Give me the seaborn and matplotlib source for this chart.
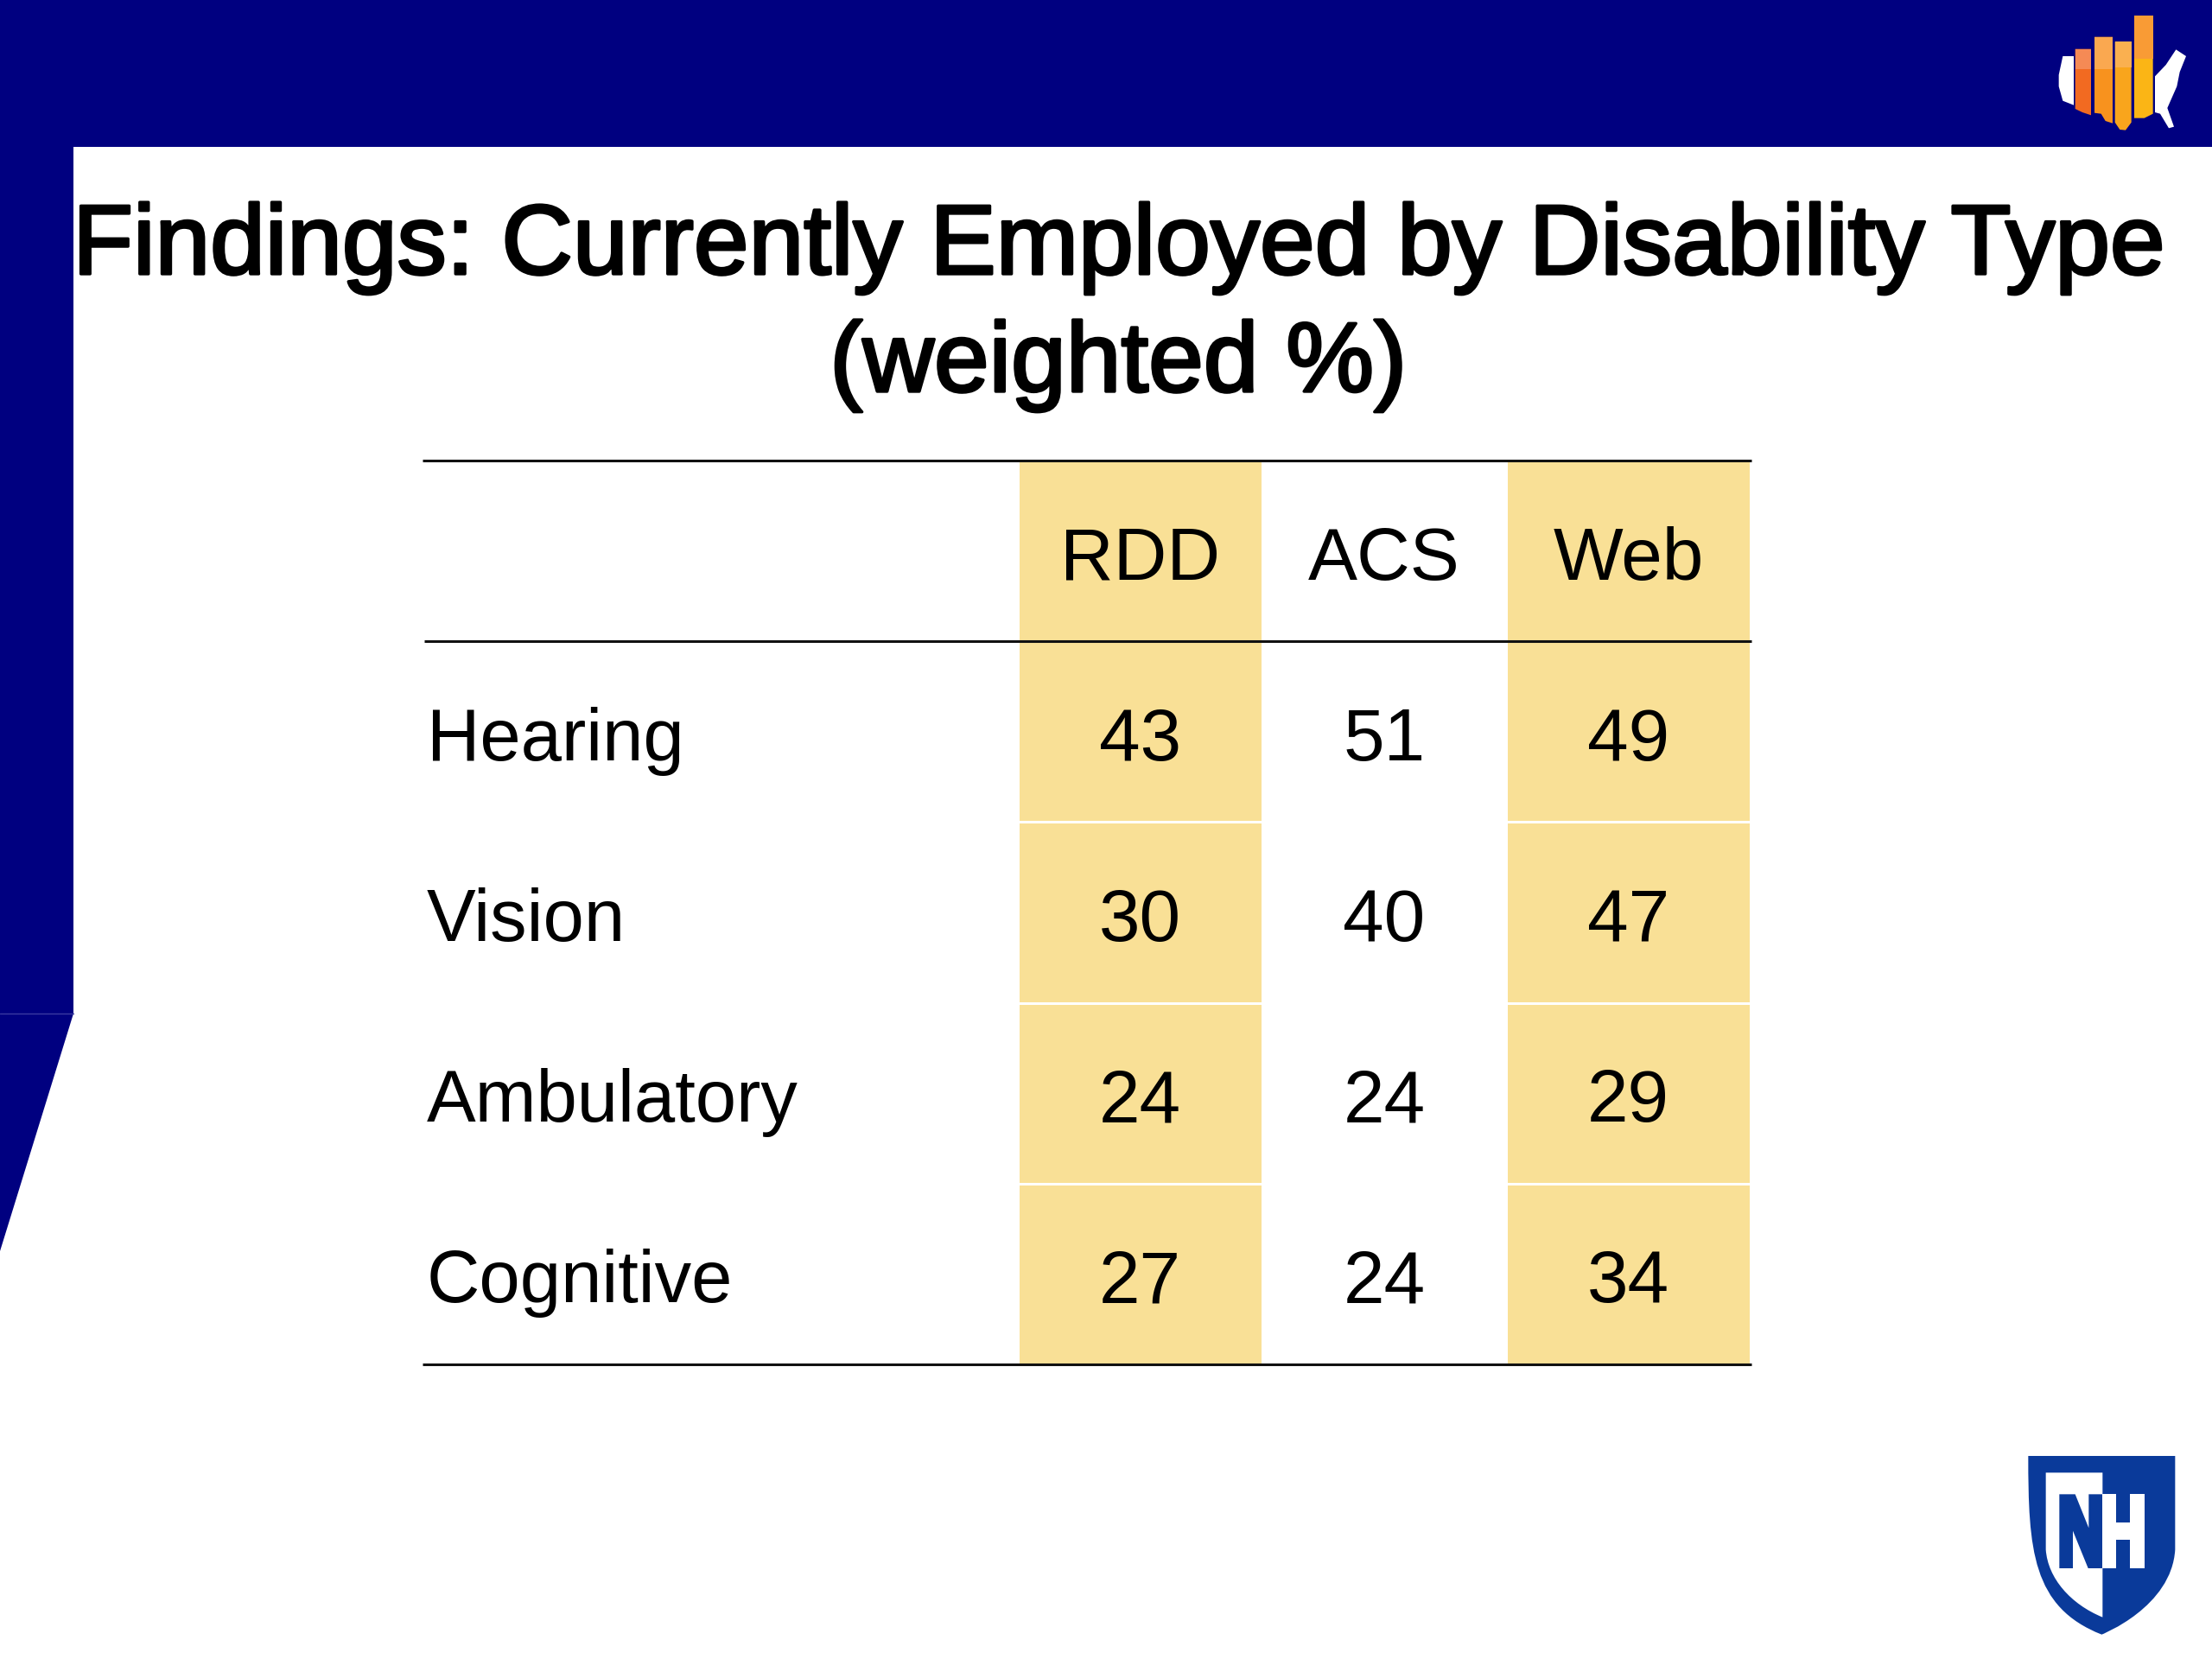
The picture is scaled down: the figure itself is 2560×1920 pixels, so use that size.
import matplotlib
matplotlib.use("Agg")
import numpy as np
import pandas as pd
import seaborn as sns
import matplotlib.pyplot as plt
import matplotlib.patheffects as pe
from matplotlib.colors import ListedColormap
from matplotlib.patches import Polygon, PathPatch
from matplotlib.path import Path
from matplotlib.transforms import ScaledTranslation

# table values
columns = ["RDD", "ACS", "Web"]
rows = ["Hearing", "Vision", "Ambulatory", "Cognitive"]
rdd = [43, 30, 24, 27]
acs = [51, 40, 24, 24]
web = [49, 47, 29, 34]
shaded = ["RDD", "Web"]
title = "Findings: Currently Employed by Disability Type\n(weighted %)"

NAVY = "#000080"
CELL = "#F9E096"
SHIELD = "#0A3A9A"
W, H = 2560, 1920

sns.set_theme(style="white")
plt.rcParams["font.family"] = ["Liberation Sans", "DejaVu Sans"]

df = pd.DataFrame({"RDD": rdd, "ACS": acs, "Web": web}, index=rows)[columns]
# header goes in as the first row of the grid so it gets the same cell height
labels = pd.concat([pd.DataFrame([columns], columns=columns, index=[""]), df.astype(str)])
shade = pd.DataFrame({c: [int(c in shaded)] * len(labels) for c in columns}, index=labels.index)

fig = plt.figure(figsize=(W / 200, H / 200), dpi=200, facecolor="white")

# table, placed in pixels
x0, x1, y0, y1 = 1178, 2026, 533, 1579
ax = fig.add_axes([x0 / W, 1 - y1 / H, (x1 - x0) / W, (y1 - y0) / H])
sns.heatmap(shade, annot=labels, fmt="", cmap=ListedColormap(["white", CELL]), vmin=0, vmax=1,
            cbar=False, linewidths=1.0, linecolor="white", ax=ax,
            annot_kws={"fontsize": 30.8, "color": "black"})
ax.set_xticks([])
ax.set_ylabel("")
ax.set_xlabel("")
ax.tick_params(axis="y", length=0, pad=(x0 - 494) * 72 / 200)
ax.set_yticklabels(labels.index, rotation=0, ha="left", fontsize=30.6, color="black")

# text sits a little below the cell centre in the original
nudge = ScaledTranslation(0, -11 / 200, fig.dpi_scale_trans)
for txt in ax.texts:
    txt.set_transform(txt.get_transform() + nudge)
for lab in ax.get_yticklabels():
    lab.set_transform(lab.get_transform() + nudge)

# slide furniture on a pixel-coordinate overlay
bg = fig.add_axes([0, 0, 1, 1], zorder=3)
bg.set_xlim(0, W)
bg.set_ylim(H, 0)
bg.axis("off")
bg.patch.set_alpha(0)

bg.add_patch(Polygon([(0, 0), (W, 0), (W, 170), (85, 170), (85, 1173), (0, 1448)], color=NAVY, lw=0))
bg.plot([0, 85], [1173, 1173], color="#3A3AA0", lw=0.5)

for y, x_start in [(533, 489), (742, 491), (1579, 489)]:
    bg.plot([x_start, 2027], [y, y], color="#111111", lw=1.1, solid_capstyle="butt")

bg.text(1294, 317, title.split("\n")[0], ha="center", va="baseline", fontsize=41.2, color="black",
        path_effects=[pe.withStroke(linewidth=1.2, foreground="black")])
bg.text(1294, 453, title.split("\n")[1], ha="center", va="baseline", fontsize=41.2, color="black",
        path_effects=[pe.withStroke(linewidth=1.2, foreground="black")])


def zoom_pts(pts, ox, oy):
    return [(ox + x / 3, oy + y / 3) for x, y in pts]


# survey logo, top right
ox, oy = 2300, 0
west = [(262, 195), (300, 195), (300, 365), (262, 350), (248, 300), (248, 260)]
east = [(582, 265), (620, 225), (655, 172), (690, 195), (668, 250), (658, 300), (625, 375),
        (648, 440), (630, 445), (600, 395), (582, 390)]
for shape in (west, east):
    bg.add_patch(Polygon(zoom_pts(shape, ox, oy), color="white", lw=0))

logo_bars = [
    ([(305, 170), (360, 170), (360, 400), (330, 390), (305, 378)], "#F26A21", "#F58A55"),
    ([(372, 128), (435, 128), (435, 428), (410, 420), (395, 395), (372, 392)], "#F8921E", "#FAA850"),
    ([(443, 145), (500, 145), (500, 425), (480, 452), (460, 450), (443, 425)], "#F9A51C", "#FAB050"),
    ([(510, 55), (575, 55), (575, 395), (545, 410), (510, 410)], "#FBB515", "#F99B35"),
]
logo_split = [240, 240, 235, 205]
for (shape, low, top), split in zip(logo_bars, logo_split):
    bg.add_patch(Polygon(zoom_pts(shape, ox, oy), color=low, lw=0))
    xs = [p[0] for p in shape]
    band = [(min(xs), 0), (max(xs), 0), (max(xs), split), (min(xs), split)]
    band = [(x, max(y, min(p[1] for p in shape))) for x, y in band]
    bg.add_patch(Polygon(zoom_pts(band, ox, oy), color=top, lw=0))

# shield logo, bottom right
ox, oy = 2300, 1660
shield = zoom_pts([(142, 75), (652, 75), (652, 400), (640, 600), (397, 695), (397, 695), (155, 600),
                   (142, 400), (142, 75)], ox, oy)
codes = [Path.MOVETO, Path.LINETO, Path.LINETO, Path.CURVE4, Path.CURVE4, Path.CURVE4, Path.CURVE4,
         Path.CURVE4, Path.CLOSEPOLY]
bg.add_patch(PathPatch(Path(shield, codes), facecolor=SHIELD, lw=0))
inner = zoom_pts([(203, 133), (400, 133), (400, 635), (290, 590), (210, 500), (203, 400), (203, 133)], ox, oy)
codes = [Path.MOVETO, Path.LINETO, Path.LINETO, Path.CURVE4, Path.CURVE4, Path.CURVE4, Path.CLOSEPOLY]
bg.add_patch(PathPatch(Path(inner, codes), facecolor="white", lw=0))
letter_n = [(250, 208), (305, 208), (352, 325), (352, 208), (400, 208), (400, 465), (350, 465),
            (297, 335), (297, 465), (250, 465)]
letter_h = [(400, 208), (447, 208), (447, 305), (495, 305), (495, 208), (546, 208), (546, 465),
            (495, 465), (495, 365), (447, 365), (447, 465), (400, 465)]
bg.add_patch(Polygon(zoom_pts(letter_n, ox, oy), color=SHIELD, lw=0))
bg.add_patch(Polygon(zoom_pts(letter_h, ox, oy), color="white", lw=0))

fig.savefig("out.png", dpi=200)
